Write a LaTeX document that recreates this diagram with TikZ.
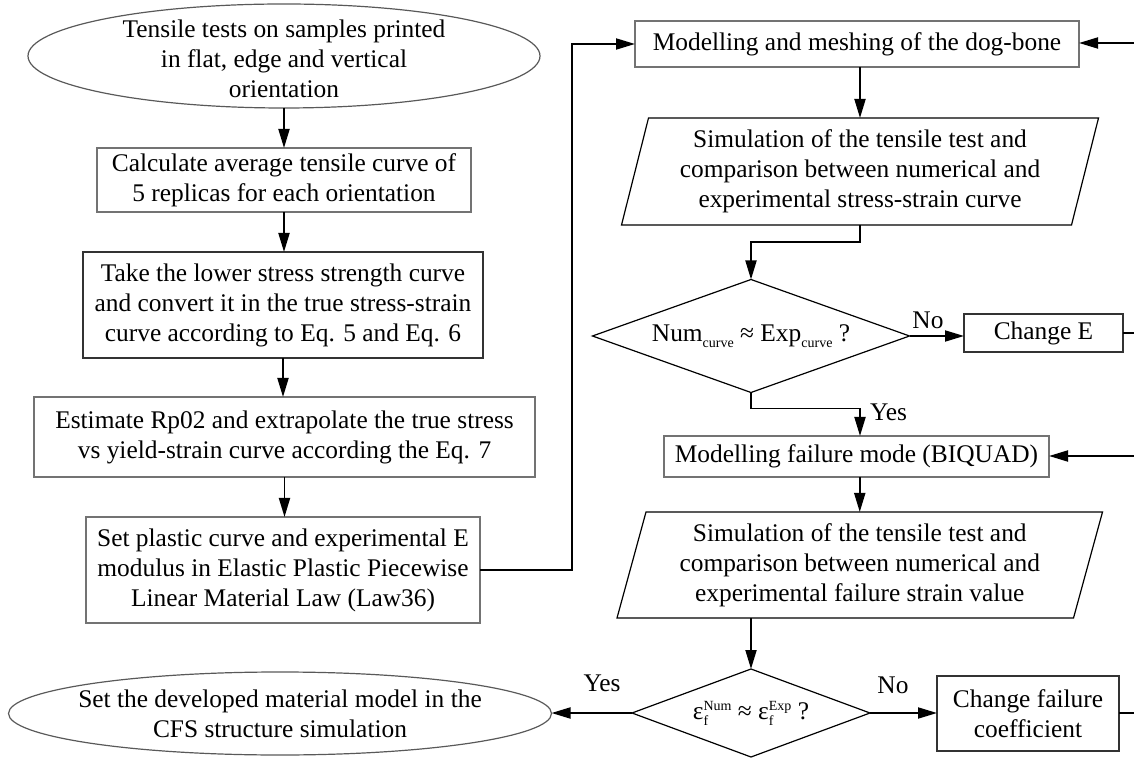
\documentclass[tikz,border=0pt]{standalone}
\usepackage{fontspec}
\setmainfont{Liberation Serif}
\usetikzlibrary{shapes.geometric,arrows.meta,calc}
\newcommand{\epsfs}[1]{ε\rlap{\raisebox{-0.45ex}{\scriptsize f}}\raisebox{0.85ex}{\scriptsize #1}}
\begin{document}
\begin{tikzpicture}[x=0.5pt,y=-0.5pt,
  font=\fontsize{12.7}{15}\selectfont,
  every node/.style={inner sep=0pt, outer sep=0pt},
  conn/.style={line width=0.95pt, -{Triangle[length=9.5pt,width=5.5pt]}},
  plain/.style={line width=0.95pt},
  box/.style={draw=black!55, line width=0.6pt, rectangle, align=center},
  dbox/.style={box, draw=black!80},
  oval/.style={draw=black!65, line width=0.6pt, ellipse},
  dec/.style={draw=black, line width=0.6pt, diamond},
  slant/.style={draw=black, line width=0.6pt}
]
\useasboundingbox (0,0) rectangle (1134,758);

% left column
\node[oval, minimum width=256pt, minimum height=52pt,
  label={[align=center, yshift=-1.5pt]center:{Tensile tests on samples printed\\in flat, edge and vertical\\orientation}}] (start) at (284,56) {};
\node[box, minimum width=187pt, minimum height=32pt] (calc) at (284,180)
  {Calculate average tensile curve of\\5 replicas for each orientation};
\node[dbox, minimum width=200pt, minimum height=53pt] (take) at (283,305)
  {Take the lower stress strength curve\\and convert it in the true stress-strain\\curve according to Eq. 5 and Eq. 6};
\node[box, minimum width=250.5pt, minimum height=40pt] (est) at (284.5,437)
  {Estimate Rp02 and extrapolate the true stress\\vs yield-strain curve according the Eq. 7};
\node[box, minimum width=197pt, minimum height=53pt] (setpl) at (283,570)
  {Set plastic curve and experimental E\\modulus in Elastic Plastic Piecewise\\Linear Material Law (Law36)};
\node[oval, minimum width=271.5pt, minimum height=41.5pt,
  label={[align=center]center:{Set the developed material model in the\\CFS structure simulation}}] (stop) at (280,713.5) {};

% right column
\node[box, minimum width=222pt, minimum height=23pt] (mesh) at (857,44)
  {Modelling and meshing of the dog-bone};
\node[align=center, minimum width=225pt, minimum height=53.5pt] (sim1) at (860,171.5)
  {Simulation of the tensile test and\\comparison between numerical and\\experimental stress-strain curve};
\draw[slant] ([xshift=-6.75pt]sim1.south west) -- ([xshift=-6.75pt]sim1.south east)
  -- ([xshift=6.75pt]sim1.north east) -- ([xshift=6.75pt]sim1.north west) -- cycle;
\node[dec, minimum width=158.5pt, minimum height=56.5pt,
  label={center:{Num\raisebox{-0.5ex}{\scriptsize curve} ≈ Exp\raisebox{-0.5ex}{\scriptsize curve} ?}}] (dec1) at (751,336) {};
\node[dbox, minimum width=79.5pt, minimum height=19pt] (chE) at (1043.5,333) {Change E};
\node[box, minimum width=192.5pt, minimum height=20.5pt] (biq) at (856.5,456.5)
  {Modelling failure mode (BIQUAD)};
\node[align=center, minimum width=228.25pt, minimum height=53pt] (sim2) at (859.75,565)
  {Simulation of the tensile test and\\comparison between numerical and\\experimental failure strain value};
\draw[slant] ([xshift=-7.25pt]sim2.south west) -- ([xshift=-7.25pt]sim2.south east)
  -- ([xshift=7.25pt]sim2.north east) -- ([xshift=7.25pt]sim2.north west) -- cycle;
\node[dec, minimum width=119pt, minimum height=44pt,
  label={center:{\epsfs{Num} ≈ \epsfs{Exp} ?}}] (dec2) at (751,713) {};
\node[dbox, minimum width=91pt, minimum height=37.5pt] (chF) at (1028,713.5)
  {Change failure\\coefficient};

% labels
\node (no1) at (928,320) {No};
\node[anchor=west] (yes1) at (870,412) {Yes};
\node (yes2) at (602,683) {Yes};
\node (no2) at (893,685) {No};

% free ends at the right border
\coordinate (jx) at (572,0);
\coordinate (r1) at (1134,333);
\coordinate (r2) at (1134,43);
\coordinate (r3) at (1134,456);
\coordinate (r4) at (1134,713);

% connectors
\draw[conn] (start.south) -- (calc.north);
\draw[conn] (calc.south) -- (calc.south |- take.north);
\draw[conn] (take.south) -- (take.south |- est.north);
\draw[conn] (est.south) -- (est.south |- setpl.north);
\draw[conn] (setpl.east) -- (setpl.east -| jx) |- (mesh.west);
\draw[conn] (r2) -- (mesh.east |- r2);
\draw[conn] (mesh.south -| sim1.north) -- (sim1.north);
\draw[conn] (sim1.south) -- ++(0,17) -| (dec1.north);
\draw[conn] (dec1.east) -- (chE.west |- dec1.east);
\draw[plain] (chE.east |- r1) -- (r1);
\draw[conn] (dec1.south) -- ++(0,16) -| (sim1.south |- biq.north);
\draw[conn] (r3) -- (biq.east |- r3);
\draw[conn] (biq.south -| sim2.north) -- (sim2.north);
\draw[conn] (dec2.north |- sim2.south) -- (dec2.north);
\draw[conn] (dec2.west) -- (stop.east |- dec2.west);
\draw[conn] (dec2.east) -- (chF.west |- dec2.east);
\draw[plain] (chF.east |- r4) -- (r4);
\end{tikzpicture}
\end{document}
